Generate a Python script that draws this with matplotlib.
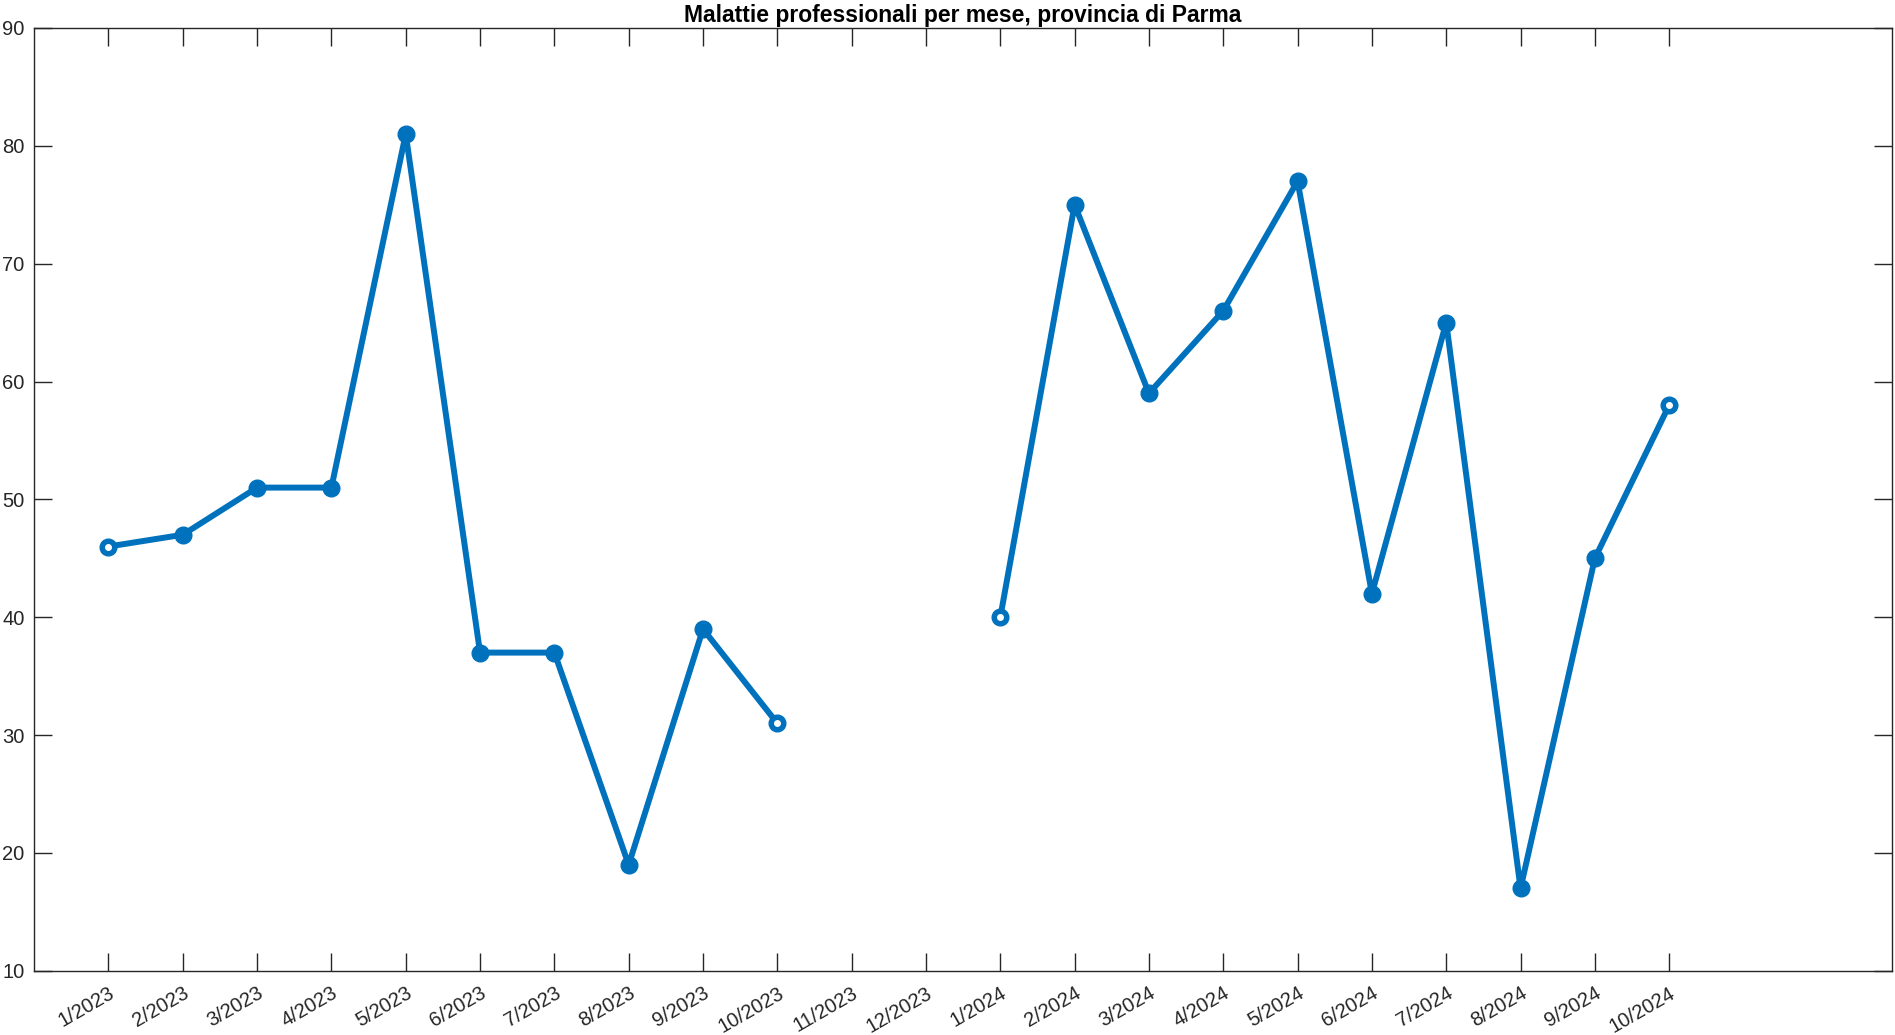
import numpy as np
import matplotlib.pyplot as plt

plt.rcParams['font.family'] = ['Liberation Sans', 'DejaVu Sans']

mesi = ['1/2023', '2/2023', '3/2023', '4/2023', '5/2023', '6/2023', '7/2023',
        '8/2023', '9/2023', '10/2023', '11/2023', '12/2023',
        '1/2024', '2/2024', '3/2024', '4/2024', '5/2024', '6/2024', '7/2024',
        '8/2024', '9/2024', '10/2024']
casi = [46, 47, 51, 51, 81, 37, 37, 19, 39, 31, np.nan, np.nan,
        40, 75, 59, 66, 77, 42, 65, 17, 45, 58]

blu = '#0072BD'
x = np.arange(1, len(mesi) + 1)
y = np.array(casi, dtype=float)

fig = plt.figure(figsize=(18.95, 10.35), dpi=100)
ax = fig.add_axes([0.018, 0.062, 0.9805, 0.911])

ax.plot(x, y, color=blu, lw=4.3, marker='o', ms=12, mfc=blu, mec=blu)

# estremi dei segmenti: cerchio con centro chiaro
ok = ~np.isnan(y)
ends = []
for i in range(len(y)):
    if ok[i] and (i == 0 or not ok[i - 1] or i == len(y) - 1 or not ok[i + 1]):
        ends.append(i)
ax.plot(x[ends], y[ends], ls='none', marker='o', ms=4, mfc='white', mec='white')

ax.set_xlim(0, 25)
ax.set_ylim(10, 90)
ax.set_yticks(range(10, 91, 10))
ax.set_xticks(x)
ax.set_xticklabels(mesi, rotation=30, ha='right', rotation_mode='anchor')
ax.tick_params(direction='in', length=13, width=1, top=True, right=True,
               labelsize=14.5, colors='#262626', pad=9)
ax.tick_params(axis='y', pad=7)
for s in ax.spines.values():
    s.set_linewidth(1)
    s.set_color('#262626')

ax.set_title('Malattie professionali per mese, provincia di Parma',
             fontsize=16.5, fontweight='bold', pad=4)

fig.savefig('out.png', dpi=100)
